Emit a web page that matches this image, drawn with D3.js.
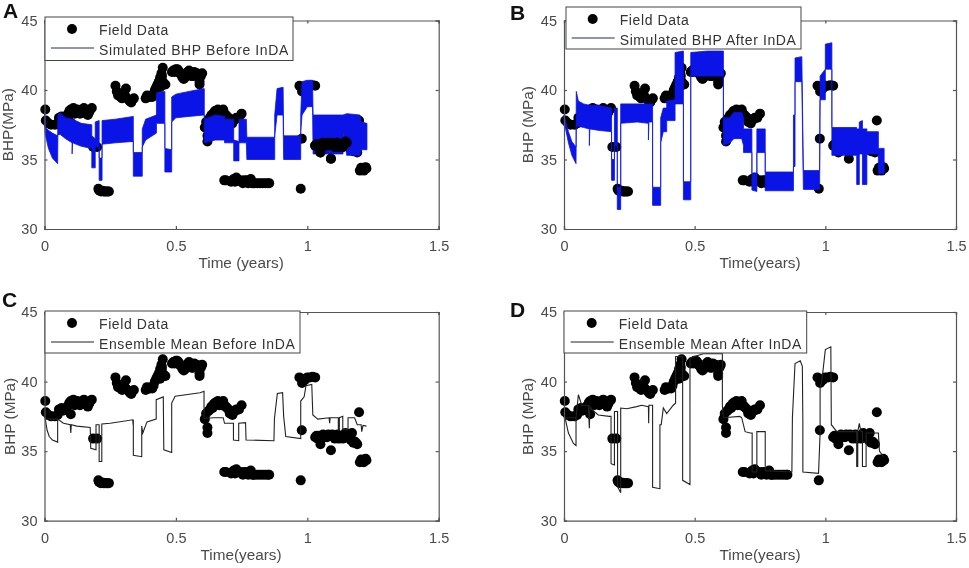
<!DOCTYPE html>
<html lang="en">
<head>
<meta charset="UTF-8">
<title>BHP before and after InDA</title>
<style>
    body { margin: 0; background: #fff; }
    svg { display: block; font-family: "Liberation Sans", Arial, sans-serif; filter: blur(0.35px); }
    .tick text { fill: #4a4a4a; font-size: 14.5px; font-family: "Liberation Sans", Arial, sans-serif; }
    .axis path, .axis line { stroke: #555; stroke-width: 1.2; }
    .axis-label { fill: #4a4a4a; font-size: 15.3px; text-anchor: middle; }
    .legend-text { fill: #333; font-size: 14px; letter-spacing: 0.6px; }
    .panel-letter { fill: #111; font-size: 21px; font-weight: bold; }
</style>
</head>
<body>
<svg id="chart" width="969" height="568"></svg>
<script src="https://d3js.org/d3.v7.min.js"></script>
<script>
// field measurements, same in all four panels
const fieldTime = [0.003, 0.005, 0.015, 0.025, 0.04, 0.05, 0.055, 0.065, 0.08, 0.09, 0.1, 0.1, 0.11, 0.12, 0.13, 0.14, 0.15, 0.16, 0.17, 0.18,
    0.185, 0.2, 0.205, 0.21, 0.22, 0.23, 0.245,
    0.27, 0.275, 0.28, 0.29, 0.3, 0.31, 0.31, 0.32, 0.33, 0.34,
    0.385, 0.39, 0.4, 0.415, 0.42, 0.43, 0.44, 0.445, 0.45, 0.455, 0.46,
    0.485, 0.5, 0.51, 0.52, 0.53, 0.54, 0.55, 0.56, 0.57, 0.58, 0.59, 0.6,
    0.61, 0.615, 0.62, 0.62, 0.625, 0.635, 0.645, 0.66, 0.67, 0.68, 0.69, 0.7, 0.71, 0.72, 0.73, 0.74, 0.75,
    0.684, 0.71, 0.72, 0.73, 0.745, 0.755, 0.77, 0.78, 0.79, 0.8, 0.82, 0.84, 0.855,
    0.975, 0.979, 0.97, 0.98, 0.99, 1.0, 1.01, 1.02, 1.03,
    1.03, 1.04, 1.05, 1.06, 1.07, 1.08, 1.09, 1.1, 1.11, 1.12, 1.13, 1.14, 1.15, 1.16, 1.17, 1.18, 1.19, 1.197, 1.2, 1.21, 1.22, 1.225,
    0.07, 0.085, 0.095, 0.105, 0.115, 0.125, 0.135, 0.145, 0.155, 0.165, 0.175,
    0.207, 0.215, 0.225, 0.235, 0.24,
    0.285, 0.295, 0.305, 0.325, 0.335,
    0.395, 0.405, 0.41, 0.425, 0.435, 0.44, 0.45, 0.447,
    0.49, 0.495, 0.505, 0.515, 0.525, 0.535, 0.545, 0.565, 0.575, 0.585, 0.595, 0.59,
    0.63, 0.64, 0.65, 0.655, 0.665, 0.675, 0.685, 0.695, 0.705, 0.715, 0.725, 0.735,
    0.69, 0.715, 0.725, 0.735, 0.75, 0.76, 0.775, 0.785, 0.795, 0.81, 0.83, 0.85,
    1.035, 1.045, 1.055, 1.065, 1.075, 1.085, 1.095, 1.105, 1.115, 1.125, 1.135, 1.145, 1.155, 1.165, 1.175, 1.185,
    1.205, 1.215, 1.222];
const fieldBhp = [38.6, 37.8, 37.6, 37.5, 37.5, 37.6, 38, 38.1, 38, 38.3, 37.65, 38.6, 38.7, 38.4, 38.5, 38.4, 38.7, 38.3, 38.4, 38.7,
    35.9, 35.9, 32.9, 32.75, 32.75, 32.7, 32.7,
    40.3, 39.9, 39.6, 39.5, 39.7, 40.1, 39.5, 39.3, 39.1, 39.4,
    39.4, 39.6, 39.5, 39.7, 40, 40.4, 40.9, 41.2, 41.6, 40.4, 40.4,
    41.3, 41.5, 41.4, 41.1, 40.8, 41.2, 41.4, 41, 41.3, 41.2, 40.4, 41.2,
    37.3, 37.7, 36.3, 36.7, 37.9, 38.2, 38.4, 38.6, 38.4, 38.6, 38.2, 38, 37.7, 37.8, 38, 38, 38.3,
    33.5, 33.4, 33.6, 33.7, 33.5, 33.3, 33.5, 33.4, 33.3, 33.3, 33.3, 33.3, 33.3,
    32.9, 36.5, 40.3, 39.9, 40.1, 40.3, 40.3, 40.35, 40.3,
    36, 35.9, 35.5, 36.2, 36.1, 36.2, 35.06, 36, 36.1, 35.9, 36, 36.1, 36.2, 36, 36.3, 35.7, 35.5, 37.8, 34.2, 34.3, 34.4, 34.35,
    37.9, 38.1, 38.5, 38.4, 38.3, 38.6, 38.3, 38.6, 38.4, 38.2, 38.6,
    32.8, 32.7, 32.7, 32.7, 32.7,
    39.7, 39.4, 39.6, 39.2, 39.3,
    39.5, 39.6, 39.5, 40.2, 40.6, 40.2, 40.6, 41,
    41.4, 41.3, 41.5, 41.2, 40.9, 40.9, 41.3, 41, 41.2, 41.1, 41, 40.6,
    38, 38.1, 38.5, 38.4, 38.3, 38.3, 38.3, 38.1, 37.7, 37.6, 37.9, 38,
    33.5, 33.5, 33.4, 33.5, 33.4, 33.5, 33.3, 33.6, 33.3, 33.3, 33.3, 33.3,
    36.1, 36.1, 36.1, 36, 36, 36.1, 36.2, 35.9, 36.2, 36, 35.9, 36.3, 36.1, 35.8, 35.6, 35.6,
    34.4, 34.2, 34.45];

// panel A spread of the ensemble
const timeA = [0, 0.003, 0.015, 0.03, 0.05, 0.051, 0.06, 0.08, 0.105, 0.105, 0.107, 0.14, 0.18, 0.18, 0.193, 0.193, 0.208, 0.208, 0.219, 0.219,
    0.27, 0.338, 0.338, 0.372, 0.372, 0.385, 0.426, 0.426, 0.458, 0.458, 0.484, 0.484, 0.5, 0.55, 0.608, 0.608, 0.65, 0.685, 0.685, 0.72,
    0.72, 0.74, 0.74, 0.768, 0.77, 0.876, 0.876, 0.885, 0.908, 0.91, 0.975, 0.975, 0.98, 1.0, 1.02, 1.022, 1.136, 1.136, 1.15, 1.2, 1.205, 1.227];
const lowA = [37.6, 36.8, 35.8, 35.1, 34.7, 36.8, 36.8, 36.5, 36.2, 35.4, 36.2, 35.95, 35.8, 34.4, 34.4, 35.9, 35.9, 33.5, 33.5, 36.1,
    36.2, 36.3, 33.8, 33.8, 35.9, 36.4, 36.9, 37.6, 37.6, 34.1, 34.1, 37.7, 38, 38.1, 38.2, 36.2, 36.4, 36.4, 36.2, 36.2,
    34.9, 34.9, 36.2, 36.2, 35, 35, 36.7, 38.2, 38.2, 35, 35, 37, 38.2, 38.8, 38.8, 35.4, 35.4, 36.9, 35.3, 35.3, 35.7, 35.7];
const highA = [38.4, 37.3, 37.1, 36.9, 36.7, 38.2, 38.35, 38, 37.9, 37.9, 37.9, 37.6, 37.5, 36.7, 36.5, 37.7, 37.8, 35.1, 35.1, 37.8,
    37.9, 38.1, 35.5, 35.5, 37.2, 37.9, 38.2, 39.8, 39.9, 35.8, 35.7, 39.5, 39.7, 39.9, 40.1, 37.9, 38.2, 38.1, 37.9, 37.9,
    36.4, 36.3, 37.9, 37.9, 36.6, 36.6, 38.2, 40.1, 40.2, 36.7, 36.7, 38.2, 40.6, 40.7, 40.7, 38.2, 38.2, 38.2, 38.3, 38.2, 37.7, 37.6];

// panel B spread of the ensemble
const timeB = [0, 0.004, 0.017, 0.03, 0.046, 0.047, 0.055, 0.075, 0.097, 0.097, 0.099, 0.13, 0.182, 0.182, 0.193, 0.193, 0.204, 0.204, 0.217, 0.217,
    0.28, 0.323, 0.323, 0.325, 0.339, 0.339, 0.37, 0.37, 0.38, 0.393, 0.393, 0.425, 0.425, 0.457, 0.457, 0.485, 0.485, 0.55, 0.61, 0.61,
    0.635, 0.65, 0.68, 0.687, 0.687, 0.719, 0.719, 0.738, 0.738, 0.77, 0.77, 0.878, 0.878, 0.884, 0.884, 0.91, 0.916, 0.978, 0.98, 1.0,
    1.0, 1.025, 1.025, 1.12, 1.12, 1.13, 1.13, 1.142, 1.142, 1.159, 1.159, 1.203, 1.203, 1.225];
const lowB = [37.6, 37.4, 36.2, 35.3, 34.7, 37.4, 37.4, 37.3, 37.2, 36, 37.2, 37.1, 37, 33.5, 33.5, 36, 36, 31.4, 31.4, 37.6,
    37.7, 37.6, 36.4, 37.7, 37.7, 31.7, 31.7, 36.2, 37, 37, 37.8, 37.8, 39, 39, 32.1, 32.1, 41, 41, 41, 36,
    36.2, 36.5, 36.5, 36, 35.5, 35.5, 32.8, 32.7, 35.5, 35.5, 32.75, 32.75, 34.5, 34.5, 40.6, 40.6, 32.85, 32.85, 39.3, 39.3,
    41.5, 41.5, 35.3, 35.3, 33.2, 33.2, 35.4, 35.4, 33.2, 33.2, 35.4, 35.4, 34, 34];
const highB = [38.2, 37.9, 37, 36.3, 35.9, 39.9, 39.2, 39, 38.9, 38.9, 38.9, 38.9, 38.7, 35, 35, 38.7, 38.7, 33, 33, 39,
    39, 39, 39, 39, 39, 33, 33, 38, 38.7, 38.7, 39.2, 39.3, 42.7, 42.8, 33.4, 33.4, 42.7, 42.8, 42.8, 38,
    38, 38.4, 38.4, 38, 37.2, 37.2, 34, 34, 37.2, 37.2, 34.1, 34.1, 38.2, 38.2, 42.3, 42.4, 34.2, 34.2, 41, 41.5,
    43.3, 43.4, 37.3, 37.3, 37.2, 37.2, 37.7, 37.8, 37.2, 37.2, 37, 37, 35.8, 35.8];

// panel C ensemble mean, in drawing order
const timeC = [0.05, 0.003, 0.01, 0.018, 0.03, 0.05, 0.05, 0.072, 0.098, 0.1,
    0.102, 0.123, 0.174, 0.176, 0.196, 0.196, 0.208, 0.208, 0.218, 0.218,
    0.25, 0.336, 0.337, 0.338, 0.338, 0.37, 0.37, 0.374, 0.39, 0.425,
    0.425, 0.452, 0.454, 0.484, 0.484, 0.497, 0.592, 0.607, 0.607, 0.643,
    0.68, 0.685, 0.719, 0.719, 0.739, 0.739, 0.765, 0.767, 0.873, 0.875,
    0.886, 0.906, 0.91, 0.918, 0.975, 0.975, 0.988, 0.995, 1.017, 1.021,
    1.04, 1.083, 1.085, 1.087, 1.118, 1.118, 1.122, 1.122, 1.135, 1.135,
    1.155, 1.155, 1.18, 1.19, 1.205, 1.207, 1.212, 1.225];
const bhpC = [37.3, 37.3, 36.5, 36.05, 35.8, 35.65, 37.3, 37, 36.9, 36.3,
    36.9, 36.8, 36.7, 35.2, 35.1, 36.9, 36.9, 34.25, 34.25, 36.95,
    37, 37.25, 36.9, 37.25, 34.7, 34.6, 36.8, 36.3, 37.1, 37.3,
    38.7, 38.9, 35.1, 34.9, 38.45, 38.95, 39.2, 39.3, 37.35, 37.4,
    37.4, 37, 37, 35.8, 35.75, 37, 37.05, 35.8, 35.75, 37.35,
    39.15, 39.2, 37.5, 36.05, 35.9, 38.6, 38.9, 39.7, 39.8, 37.6,
    37.3, 37.4, 37, 37.4, 37.4, 36.5, 36.5, 37.4, 37.5, 36.55,
    36.55, 37.4, 37.4, 36.9, 36.9, 36.4, 36.85, 36.8];

// panel D ensemble mean, in drawing order
const timeD = [0.046, 0.004, 0.017, 0.036, 0.046, 0.046, 0.055, 0.068, 0.093, 0.097,
    0.099, 0.106, 0.131, 0.173, 0.18, 0.18, 0.193, 0.193, 0.205, 0.205,
    0.217, 0.217, 0.24, 0.278, 0.297, 0.323, 0.324, 0.325, 0.339, 0.339,
    0.367, 0.367, 0.372, 0.38, 0.393, 0.418, 0.427, 0.427, 0.454, 0.454,
    0.482, 0.482, 0.533, 0.606, 0.606, 0.61, 0.673, 0.68, 0.693, 0.712,
    0.72, 0.72, 0.738, 0.738, 0.77, 0.77, 0.872, 0.874, 0.884, 0.904,
    0.912, 0.914, 0.914, 0.974, 0.98, 0.98, 0.987, 1.0, 1.021, 1.023,
    1.044, 1.108, 1.12, 1.12, 1.124, 1.124, 1.13, 1.136, 1.142, 1.142,
    1.156, 1.156, 1.203, 1.207, 1.222];
const bhpD = [37.4, 37.4, 36.3, 35.55, 35.4, 37.4, 39.05, 38.3, 38.3, 36.65,
    38.2, 38, 37.6, 37.5, 37.5, 34.1, 34, 37.85, 37.85, 32.45,
    32, 38.1, 38.05, 38.2, 38.3, 38.2, 37, 38.3, 38.3, 32.4,
    32.3, 36.9, 36.9, 38.1, 37.7, 38.3, 38.45, 41.8, 41.8, 32.9,
    32.6, 41.7, 42, 42, 38.3, 37.4, 37.5, 37.4, 36.4, 36.3,
    36.3, 33.5, 33.5, 36.4, 36.4, 33.6, 33.5, 37.4, 41.3, 41.5,
    41.1, 37.1, 33.5, 33.4, 36.3, 39.5, 40.1, 42.3, 42.5, 36.9,
    36.4, 36.4, 36.4, 33.9, 33.9, 36.4, 37, 36.4, 36.4, 33.9,
    33.9, 36.3, 36.3, 35, 34.6];

const xTicks = [0, 0.5, 1, 1.5];
const yTicks = [30, 35, 40, 45];

const legendLabels = ['Simulated BHP Before InDA', 'Simulated BHP After InDA', 'Ensemble Mean Before InDA', 'Ensemble Mean After InDA'];
const timeLabels = ['Time (years)', 'Time(years)', 'Time(years)', 'Time(years)'];
const bhpLabels = ['BHP(MPa)', 'BHP (MPa)', 'BHP (MPa)', 'BHP (MPa)'];
const letters = ['A', 'B', 'C', 'D'];

const svg = d3.select('#chart');

const panels = [
    { left: 44.5, right: 438.7, top: 20.5, bottom: 229, letterX: 3, letterY: 18, ylabX: 13, box: [45, 17, 248, 43.5], markX: 72, time: timeA, low: lowA, high: highA, dotsFront: [1.03, 1.15] },
    { left: 564, right: 956, top: 20.5, bottom: 229, letterX: 510, letterY: 20, ylabX: 533, box: [566, 7, 235, 42], markX: 592.7, time: timeB, low: lowB, high: highB, dotsFront: null },
    { left: 44.5, right: 438.7, top: 312, bottom: 520.7, letterX: 2, letterY: 307, ylabX: 15, box: [45, 311, 255, 42], markX: 72, time: timeC, bhp: bhpC },
    { left: 564, right: 956, top: 312, bottom: 520.7, letterX: 510, letterY: 317, ylabX: 533, box: [564, 311, 242.7, 42], markX: 591.7, time: timeD, bhp: bhpD }
];

function drawDots(g, x, y, keep) {
    const rows = fieldTime.map((t, j) => ({ t: t, v: fieldBhp[j] })).filter(keep);
    g.append('g').selectAll('circle')
        .data(rows)
        .enter().append('circle')
        .attr('cx', d => x(d.t))
        .attr('cy', d => y(d.v))
        .attr('r', 5)
        .attr('fill', '#000');
}

panels.forEach((p, i) => {
    const x = d3.scaleLinear().domain([0, 1.5]).range([p.left, p.right]);
    const y = d3.scaleLinear().domain([30, 45]).range([p.bottom, p.top]);
    const g = svg.append('g');

    // field data goes under the simulated curves
    drawDots(g, x, y, () => true);

    if (p.low) {
        const rows = p.time.map((t, j) => ({ t: t, lo: p.low[j], hi: p.high[j] }));
        g.append('path')
            .datum(rows)
            .attr('fill', '#0a14e6')
            .attr('stroke', '#0a14e6')
            .attr('stroke-width', 0.8)
            .attr('d', d3.area().x(d => x(d.t)).y0(d => y(d.lo)).y1(d => y(d.hi)));
        if (p.dotsFront) drawDots(g, x, y, d => d.t >= p.dotsFront[0] && d.t <= p.dotsFront[1] && d.v < 37);
    } else {
        const rows = p.time.map((t, j) => ({ t: t, v: p.bhp[j] }));
        g.append('path')
            .datum(rows)
            .attr('fill', 'none')
            .attr('stroke', '#222')
            .attr('stroke-width', 1.1)
            .attr('d', d3.line().x(d => x(d.t)).y(d => y(d.v)));
    }

    // axes, MATLAB style box with inward ticks
    g.append('g').attr('class', 'axis')
        .attr('transform', `translate(0,${p.bottom})`)
        .call(d3.axisBottom(x).tickValues(xTicks).tickSize(-3).tickPadding(12).tickFormat(d3.format('')));
    g.append('g').attr('class', 'axis')
        .attr('transform', `translate(${p.left},0)`)
        .call(d3.axisLeft(y).tickValues(yTicks).tickSize(-3).tickPadding(7));
    g.append('g').attr('class', 'axis')
        .attr('transform', `translate(0,${p.top})`)
        .call(d3.axisTop(x).tickValues(xTicks).tickSize(-3).tickFormat(''));
    g.append('g').attr('class', 'axis')
        .attr('transform', `translate(${p.right},0)`)
        .call(d3.axisRight(y).tickValues(yTicks).tickSize(-3).tickFormat(''));

    g.append('text').attr('class', 'axis-label')
        .attr('x', (p.left + p.right) / 2 + (i % 2 ? 0 : -0.5))
        .attr('y', p.bottom + 39)
        .text(timeLabels[i]);
    g.append('text').attr('class', 'axis-label')
        .attr('transform', `translate(${p.ylabX},${(p.top + p.bottom) / 2}) rotate(-90)`)
        .text(bhpLabels[i]);

    // legend box sits on top of the data
    const [bx, by, bw, bh] = p.box;
    const lg = g.append('g');
    lg.append('rect')
        .attr('x', bx).attr('y', by).attr('width', bw).attr('height', bh)
        .attr('fill', '#fff').attr('stroke', '#444').attr('stroke-width', 1);
    lg.append('circle')
        .attr('cx', p.markX).attr('cy', by + 12).attr('r', 5).attr('fill', '#000');
    lg.append('text').attr('class', 'legend-text')
        .attr('x', p.markX + 27).attr('y', by + 18).text('Field Data');
    lg.append('line')
        .attr('x1', p.markX - 21).attr('x2', p.markX + 22)
        .attr('y1', by + 31).attr('y2', by + 31)
        .attr('stroke', p.low ? '#1c2a6e' : '#222').attr('stroke-width', 1);
    lg.append('text').attr('class', 'legend-text')
        .attr('x', p.markX + 27).attr('y', by + 38).text(legendLabels[i]);

    svg.append('text').attr('class', 'panel-letter')
        .attr('x', p.letterX).attr('y', p.letterY).text(letters[i]);
});
</script>
</body>
</html>
